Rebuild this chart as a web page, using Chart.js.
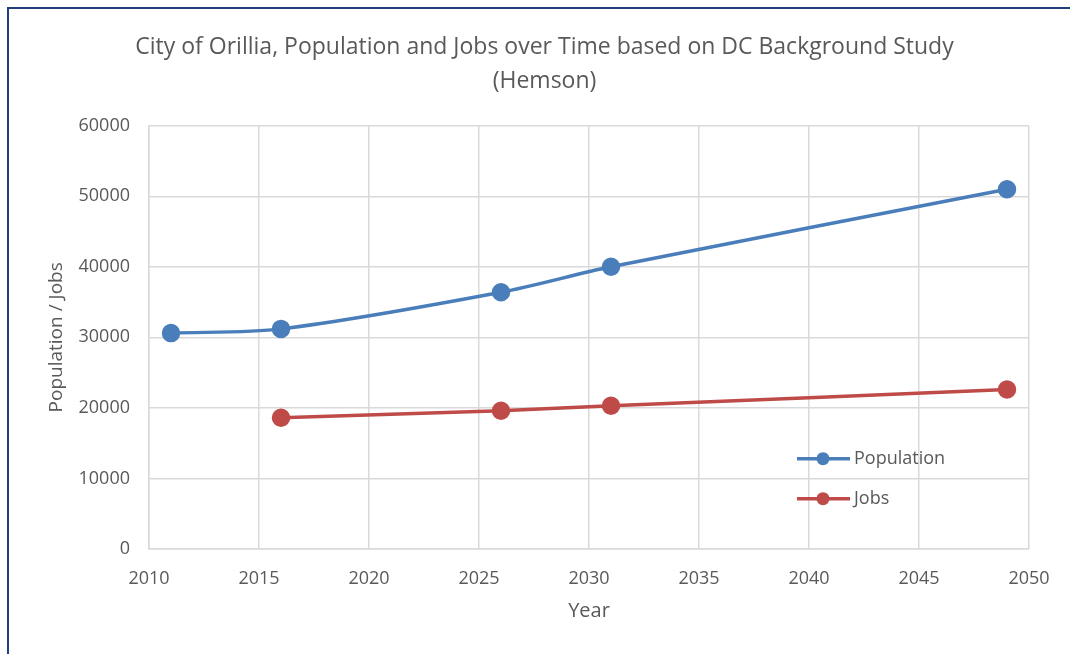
<!DOCTYPE html>
<html lang="en">
<head>
    <meta charset="UTF-8">
    <title>City of Orillia, Population and Jobs over Time</title>
    <script src="https://cdn.jsdelivr.net/npm/chart.js"></script>
    <style>
        html, body {
            margin: 0;
            padding: 0;
            background: #ffffff;
            overflow: hidden;
        }
        .frame {
            position: absolute;
            left: 7px;
            top: 7px;
            width: 1100px;
            height: 700px;
            border-left: 2px solid #1f3f7a;
            border-top: 2px solid #1f3f7a;
        }
        #chart {
            position: absolute;
            left: 0;
            top: 0;
        }
    </style>
</head>
<body>
    <div class="frame"></div>
    <canvas id="chart" width="1070" height="654"></canvas>

    <script>
        const titleLines = ["City of Orillia, Population and Jobs over Time based on DC Background Study", "(Hemson)"];

        const popYears = [2011, 2016, 2026, 2031, 2049];
        const popValues = [30600, 31200, 36400, 40000, 51000];

        const jobYears = [2016, 2026, 2031, 2049];
        const jobValues = [18600, 19600, 20300, 22600];

        const seriesNames = ["Population", "Jobs"];
        const seriesColors = ["#4a7ebb", "#be4b48"];

        const textColor = "#595959";
        const gridColor = "#d9d9d9";
        const fontFamily = "'Open Sans', 'Noto Sans', sans-serif";

        const toPoints = (xs, ys) => xs.map((x, i) => ({ x: x, y: ys[i] }));

        // legend drawn inside the plot, bottom right like the Excel one
        const insideLegend = {
            id: 'insideLegend',
            afterDraw(chart) {
                const ctx = chart.ctx;
                const area = chart.chartArea;
                const x0 = area.right - 232;
                ctx.save();
                chart.data.datasets.forEach((ds, i) => {
                    const y = area.top + 333 + i * 40;
                    ctx.strokeStyle = ds.borderColor;
                    ctx.lineWidth = 3.5;
                    ctx.beginPath();
                    ctx.moveTo(x0, y);
                    ctx.lineTo(x0 + 53, y);
                    ctx.stroke();
                    ctx.fillStyle = ds.borderColor;
                    ctx.beginPath();
                    ctx.arc(x0 + 26, y, 6.5, 0, Math.PI * 2);
                    ctx.fill();
                    ctx.fillStyle = textColor;
                    ctx.font = "18px " + fontFamily;
                    ctx.textBaseline = 'middle';
                    ctx.textAlign = 'left';
                    ctx.fillText(ds.label, x0 + 57, y);
                });
                ctx.restore();
            }
        };

        const ctx = document.getElementById('chart').getContext('2d');
        const chart = new Chart(ctx, {
            type: 'line',
            data: {
                datasets: [
                    {
                        label: seriesNames[0],
                        data: toPoints(popYears, popValues),
                        borderColor: seriesColors[0],
                        backgroundColor: seriesColors[0],
                        borderWidth: 3.5,
                        pointRadius: 7.5,
                        pointHoverRadius: 7.5,
                        tension: 0.3
                    },
                    {
                        label: seriesNames[1],
                        data: toPoints(jobYears, jobValues),
                        borderColor: seriesColors[1],
                        backgroundColor: seriesColors[1],
                        borderWidth: 3.5,
                        pointRadius: 7.5,
                        pointHoverRadius: 7.5,
                        tension: 0.3
                    }
                ]
            },
            options: {
                responsive: false,
                animation: false,
                layout: {
                    padding: { left: 60, right: 41, top: 31, bottom: 25 }
                },
                plugins: {
                    legend: { display: false },
                    tooltip: { enabled: false },
                    title: {
                        display: true,
                        text: titleLines,
                        color: textColor,
                        font: { family: fontFamily, size: 23, weight: 'normal', lineHeight: 1.45 },
                        padding: { top: 0, bottom: 28 }
                    }
                },
                scales: {
                    x: {
                        type: 'linear',
                        min: 2010,
                        max: 2050,
                        grid: { color: gridColor, lineWidth: 1.5, drawTicks: false },
                        border: { color: gridColor, width: 1.5 },
                        ticks: {
                            stepSize: 5,
                            padding: 19,
                            color: textColor,
                            font: { family: fontFamily, size: 18 },
                            callback: v => String(v)
                        },
                        title: {
                            display: true,
                            text: 'Year',
                            color: textColor,
                            font: { family: fontFamily, size: 20 },
                            padding: { top: 0, bottom: 6 }
                        },
                        afterFit: scale => { scale.height = 80; }
                    },
                    y: {
                        min: 0,
                        max: 60000,
                        grid: { color: gridColor, lineWidth: 1.5, drawTicks: false },
                        border: { color: gridColor, width: 1.5 },
                        ticks: {
                            stepSize: 10000,
                            padding: 19,
                            color: textColor,
                            font: { family: fontFamily, size: 18 },
                            callback: v => String(v)
                        },
                        title: {
                            display: true,
                            text: 'Population / Jobs',
                            color: textColor,
                            font: { family: fontFamily, size: 19 },
                            padding: { top: -15, bottom: 0 }
                        },
                        afterFit: scale => { scale.width = 89; }
                    }
                }
            },
            plugins: [insideLegend]
        });
    </script>
</body>
</html>
